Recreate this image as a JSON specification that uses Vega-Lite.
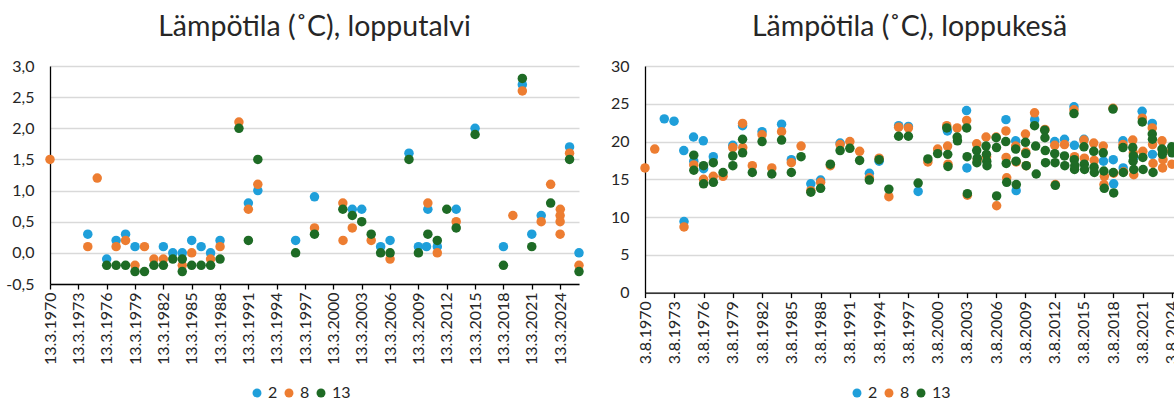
{
 "$schema": "https://vega.github.io/schema/vega-lite/v6.json",
 "padding": {"left": 0, "top": 12, "right": 0, "bottom": 0},
 "background": "white",
 "config": {
  "font": "Lato",
  "view": {"stroke": null},
  "axis": {"labelFont": "Lato", "labelFontSize": 16, "labelColor": "#262626", "gridColor": "#d9d9d9", "gridWidth": 1.3, "domainColor": "#000000", "domainWidth": 1.3, "tickColor": "#000000", "tickWidth": 1.3, "title": null},
  "title": {"font": "Lato", "fontSize": 28.5, "fontWeight": "normal", "color": "#262626", "offset": 17, "anchor": "middle"},
  "legend": {"orient": "none", "direction": "horizontal", "title": null, "symbolType": "circle", "symbolSize": 80, "symbolStrokeWidth": 0, "labelFont": "Lato", "labelFontSize": 16, "labelColor": "#262626", "labelOffset": 3, "columnPadding": 3},
  "concat": {"spacing": 21}
 },
 "datasets": {
  "winter": [
   {"d":"1974-03-13","s":"2","v":0.3},{"d":"1976-03-13","s":"2","v":-0.1},{"d":"1977-03-13","s":"2","v":0.2},{"d":"1978-03-13","s":"2","v":0.3},{"d":"1979-03-13","s":"2","v":0.1},{"d":"1982-03-13","s":"2","v":0.1},{"d":"1983-03-13","s":"2","v":0.0},{"d":"1984-03-13","s":"2","v":0.0},{"d":"1985-03-13","s":"2","v":0.2},{"d":"1986-03-13","s":"2","v":0.1},{"d":"1987-03-13","s":"2","v":0.0},{"d":"1988-03-13","s":"2","v":0.2},{"d":"1991-03-13","s":"2","v":0.8},{"d":"1992-03-13","s":"2","v":1.0},{"d":"1996-03-13","s":"2","v":0.2},{"d":"1998-03-13","s":"2","v":0.9},{"d":"2002-03-13","s":"2","v":0.7},{"d":"2003-03-13","s":"2","v":0.7},{"d":"2005-03-13","s":"2","v":0.1},{"d":"2006-03-13","s":"2","v":0.2},{"d":"2008-03-13","s":"2","v":1.6},{"d":"2009-03-13","s":"2","v":0.1},{"d":"2010-01-20","s":"2","v":0.1},{"d":"2010-03-13","s":"2","v":0.7},{"d":"2011-03-13","s":"2","v":0.1},{"d":"2013-03-13","s":"2","v":0.7},{"d":"2015-03-13","s":"2","v":2.0},{"d":"2018-03-13","s":"2","v":0.1},{"d":"2020-03-13","s":"2","v":2.7},{"d":"2021-03-13","s":"2","v":0.3},{"d":"2022-03-13","s":"2","v":0.6},{"d":"2025-03-13","s":"2","v":1.7},{"d":"2026-03-13","s":"2","v":0.0},
   {"d":"1970-03-13","s":"8","v":1.5},{"d":"1974-03-13","s":"8","v":0.1},{"d":"1975-03-13","s":"8","v":1.2},{"d":"1977-03-13","s":"8","v":0.1},{"d":"1978-03-13","s":"8","v":0.2},{"d":"1979-03-13","s":"8","v":-0.2},{"d":"1980-03-13","s":"8","v":0.1},{"d":"1981-03-13","s":"8","v":-0.1},{"d":"1982-03-13","s":"8","v":-0.1},{"d":"1984-03-13","s":"8","v":-0.2},{"d":"1985-03-13","s":"8","v":0.0},{"d":"1987-03-13","s":"8","v":-0.1},{"d":"1988-03-13","s":"8","v":0.1},{"d":"1990-03-13","s":"8","v":2.1},{"d":"1991-03-13","s":"8","v":0.7},{"d":"1992-03-13","s":"8","v":1.1},{"d":"1998-03-13","s":"8","v":0.4},{"d":"2001-03-13","s":"8","v":0.8},{"d":"2001-03-20","s":"8","v":0.2},{"d":"2002-03-13","s":"8","v":0.4},{"d":"2004-03-13","s":"8","v":0.2},{"d":"2006-03-13","s":"8","v":-0.1},{"d":"2010-03-13","s":"8","v":0.8},{"d":"2011-03-13","s":"8","v":0.0},{"d":"2013-03-13","s":"8","v":0.5},{"d":"2019-03-13","s":"8","v":0.6},{"d":"2020-03-13","s":"8","v":2.6},{"d":"2022-03-13","s":"8","v":0.5},{"d":"2023-03-13","s":"8","v":1.1},{"d":"2024-03-20","s":"8","v":0.7},{"d":"2024-03-13","s":"8","v":0.6},{"d":"2024-03-13","s":"8","v":0.5},{"d":"2024-03-13","s":"8","v":0.3},{"d":"2025-03-13","s":"8","v":1.6},{"d":"2026-03-13","s":"8","v":-0.2},
   {"d":"1976-03-13","s":"13","v":-0.2},{"d":"1977-03-13","s":"13","v":-0.2},{"d":"1978-03-13","s":"13","v":-0.2},{"d":"1979-03-13","s":"13","v":-0.3},{"d":"1980-03-13","s":"13","v":-0.3},{"d":"1981-03-13","s":"13","v":-0.2},{"d":"1982-03-13","s":"13","v":-0.2},{"d":"1983-03-13","s":"13","v":-0.1},{"d":"1984-03-13","s":"13","v":-0.1},{"d":"1984-03-13","s":"13","v":-0.3},{"d":"1985-03-13","s":"13","v":-0.2},{"d":"1986-03-13","s":"13","v":-0.2},{"d":"1987-03-13","s":"13","v":-0.2},{"d":"1988-03-13","s":"13","v":-0.1},{"d":"1990-03-13","s":"13","v":2.0},{"d":"1991-03-13","s":"13","v":0.2},{"d":"1992-03-13","s":"13","v":1.5},{"d":"1996-03-13","s":"13","v":0.0},{"d":"1998-03-13","s":"13","v":0.3},{"d":"2001-03-13","s":"13","v":0.7},{"d":"2002-03-13","s":"13","v":0.6},{"d":"2003-03-13","s":"13","v":0.5},{"d":"2004-03-13","s":"13","v":0.3},{"d":"2005-03-13","s":"13","v":0.0},{"d":"2006-03-13","s":"13","v":0.0},{"d":"2008-03-13","s":"13","v":1.5},{"d":"2009-03-13","s":"13","v":0.0},{"d":"2010-03-13","s":"13","v":0.3},{"d":"2011-03-13","s":"13","v":0.2},{"d":"2012-03-13","s":"13","v":0.7},{"d":"2013-03-13","s":"13","v":0.4},{"d":"2015-03-13","s":"13","v":1.9},{"d":"2018-03-13","s":"13","v":-0.2},{"d":"2020-03-13","s":"13","v":2.8},{"d":"2021-03-13","s":"13","v":0.1},{"d":"2023-03-13","s":"13","v":0.8},{"d":"2025-03-13","s":"13","v":1.5},{"d":"2026-03-13","s":"13","v":-0.3}
  ],
  "summer": [
   {"d":"1972-07-25","s":"2","v":23.0},{"d":"1973-07-25","s":"2","v":22.7},{"d":"1974-07-25","s":"2","v":18.8},{"d":"1974-08-03","s":"2","v":9.4},{"d":"1975-07-25","s":"2","v":20.6},{"d":"1975-08-03","s":"2","v":17.4},{"d":"1976-07-25","s":"2","v":20.1},{"d":"1976-08-05","s":"2","v":16.4},{"d":"1977-08-03","s":"2","v":18.0},{"d":"1979-08-03","s":"2","v":19.5},{"d":"1980-08-03","s":"2","v":22.1},{"d":"1982-08-03","s":"2","v":21.3},{"d":"1984-08-03","s":"2","v":22.3},{"d":"1985-08-03","s":"2","v":17.6},{"d":"1987-08-03","s":"2","v":14.4},{"d":"1988-08-03","s":"2","v":14.9},{"d":"1990-08-03","s":"2","v":19.8},{"d":"1993-08-03","s":"2","v":15.8},{"d":"1994-08-03","s":"2","v":17.4},{"d":"1996-08-03","s":"2","v":22.1},{"d":"1997-08-03","s":"2","v":22.0},{"d":"1998-08-03","s":"2","v":13.4},{"d":"2001-08-03","s":"2","v":21.4},{"d":"2003-07-20","s":"2","v":24.1},{"d":"2003-08-03","s":"2","v":16.5},{"d":"2007-08-03","s":"2","v":22.9},{"d":"2008-08-03","s":"2","v":20.1},{"d":"2008-08-20","s":"2","v":13.5},{"d":"2010-07-15","s":"2","v":22.9},{"d":"2012-08-03","s":"2","v":20.0},{"d":"2013-08-03","s":"2","v":20.3},{"d":"2014-07-25","s":"2","v":24.6},{"d":"2014-08-10","s":"2","v":19.5},{"d":"2015-08-03","s":"2","v":20.3},{"d":"2017-08-03","s":"2","v":17.4},{"d":"2018-08-03","s":"2","v":17.6},{"d":"2018-08-20","s":"2","v":14.4},{"d":"2019-08-03","s":"2","v":20.1},{"d":"2019-08-10","s":"2","v":16.5},{"d":"2020-09-10","s":"2","v":17.9},{"d":"2021-07-20","s":"2","v":24.0},{"d":"2022-08-03","s":"2","v":22.4},{"d":"2022-08-10","s":"2","v":18.3},
   {"d":"1970-08-03","s":"8","v":16.5},{"d":"1971-08-03","s":"8","v":19.0},{"d":"1974-08-03","s":"8","v":8.7},{"d":"1975-08-03","s":"8","v":16.9},{"d":"1976-08-03","s":"8","v":15.0},{"d":"1977-08-03","s":"8","v":15.4},{"d":"1978-08-03","s":"8","v":15.4},{"d":"1979-08-03","s":"8","v":19.2},{"d":"1980-08-03","s":"8","v":22.4},{"d":"1980-08-10","s":"8","v":19.2},{"d":"1981-08-03","s":"8","v":16.8},{"d":"1982-08-03","s":"8","v":20.9},{"d":"1983-08-03","s":"8","v":16.5},{"d":"1984-08-03","s":"8","v":21.3},{"d":"1985-08-03","s":"8","v":17.2},{"d":"1986-08-03","s":"8","v":19.4},{"d":"1987-08-03","s":"8","v":13.5},{"d":"1988-08-03","s":"8","v":14.6},{"d":"1989-08-03","s":"8","v":16.8},{"d":"1990-08-03","s":"8","v":19.6},{"d":"1991-08-03","s":"8","v":20.0},{"d":"1992-08-03","s":"8","v":18.7},{"d":"1993-08-03","s":"8","v":15.2},{"d":"1994-08-03","s":"8","v":17.8},{"d":"1995-08-03","s":"8","v":12.7},{"d":"1996-08-03","s":"8","v":21.9},{"d":"1997-08-03","s":"8","v":21.8},{"d":"1999-08-03","s":"8","v":17.3},{"d":"2000-08-03","s":"8","v":19.0},{"d":"2001-07-10","s":"8","v":22.1},{"d":"2001-08-10","s":"8","v":19.4},{"d":"2001-08-25","s":"8","v":17.0},{"d":"2002-08-03","s":"8","v":21.8},{"d":"2003-07-25","s":"8","v":22.8},{"d":"2003-08-20","s":"8","v":12.9},{"d":"2004-08-03","s":"8","v":19.7},{"d":"2004-08-25","s":"8","v":17.6},{"d":"2005-07-20","s":"8","v":20.6},{"d":"2005-08-10","s":"8","v":18.0},{"d":"2006-08-20","s":"8","v":11.5},{"d":"2006-08-03","s":"8","v":20.6},{"d":"2007-08-03","s":"8","v":21.4},{"d":"2007-08-10","s":"8","v":17.9},{"d":"2007-09-01","s":"8","v":15.2},{"d":"2008-08-03","s":"8","v":19.4},{"d":"2008-08-20","s":"8","v":17.3},{"d":"2009-08-03","s":"8","v":21.0},{"d":"2009-08-15","s":"8","v":18.6},{"d":"2009-09-01","s":"8","v":16.8},{"d":"2010-07-10","s":"8","v":23.8},{"d":"2011-08-03","s":"8","v":21.6},{"d":"2012-08-03","s":"8","v":19.5},{"d":"2012-08-25","s":"8","v":14.3},{"d":"2013-08-03","s":"8","v":19.6},{"d":"2014-07-25","s":"8","v":24.2},{"d":"2014-08-15","s":"8","v":18.0},{"d":"2015-08-03","s":"8","v":20.2},{"d":"2015-08-20","s":"8","v":17.8},{"d":"2016-08-03","s":"8","v":19.8},{"d":"2016-08-20","s":"8","v":17.5},{"d":"2017-07-25","s":"8","v":19.4},{"d":"2017-08-20","s":"8","v":14.3},{"d":"2017-09-05","s":"8","v":15.4},{"d":"2018-07-25","s":"8","v":24.4},{"d":"2018-08-20","s":"8","v":15.8},{"d":"2019-08-03","s":"8","v":19.6},{"d":"2019-08-25","s":"8","v":16.0},{"d":"2020-08-03","s":"8","v":20.2},{"d":"2020-08-25","s":"8","v":18.5},{"d":"2020-09-10","s":"8","v":15.6},{"d":"2021-07-25","s":"8","v":23.1},{"d":"2021-08-15","s":"8","v":18.7},{"d":"2022-08-03","s":"8","v":21.8},{"d":"2022-08-15","s":"8","v":19.6},{"d":"2022-09-01","s":"8","v":17.1},{"d":"2023-08-03","s":"8","v":20.1},{"d":"2023-08-25","s":"8","v":16.5},{"d":"2023-09-10","s":"8","v":17.6},{"d":"2024-07-25","s":"8","v":18.7},{"d":"2024-08-10","s":"8","v":17.0},
   {"d":"1975-08-03","s":"13","v":18.2},{"d":"1975-08-05","s":"13","v":16.2},{"d":"1976-08-03","s":"13","v":16.8},{"d":"1976-08-05","s":"13","v":14.4},{"d":"1977-08-03","s":"13","v":17.2},{"d":"1977-08-05","s":"13","v":14.6},{"d":"1978-08-03","s":"13","v":15.9},{"d":"1979-08-03","s":"13","v":18.1},{"d":"1979-08-05","s":"13","v":16.8},{"d":"1980-08-03","s":"13","v":20.3},{"d":"1980-08-05","s":"13","v":18.5},{"d":"1981-08-03","s":"13","v":15.9},{"d":"1982-08-03","s":"13","v":20.0},{"d":"1983-08-03","s":"13","v":15.7},{"d":"1984-08-03","s":"13","v":20.2},{"d":"1985-08-03","s":"13","v":15.9},{"d":"1986-08-03","s":"13","v":18.0},{"d":"1987-08-03","s":"13","v":13.3},{"d":"1988-08-03","s":"13","v":13.8},{"d":"1989-08-03","s":"13","v":17.0},{"d":"1990-08-03","s":"13","v":18.8},{"d":"1991-08-03","s":"13","v":19.1},{"d":"1992-08-03","s":"13","v":17.5},{"d":"1993-08-03","s":"13","v":14.9},{"d":"1994-08-03","s":"13","v":17.6},{"d":"1995-08-03","s":"13","v":13.7},{"d":"1996-08-03","s":"13","v":20.7},{"d":"1997-08-03","s":"13","v":20.7},{"d":"1998-08-03","s":"13","v":14.5},{"d":"1999-08-03","s":"13","v":17.7},{"d":"2000-08-03","s":"13","v":18.4},{"d":"2001-07-10","s":"13","v":21.8},{"d":"2001-08-15","s":"13","v":18.3},{"d":"2001-08-25","s":"13","v":16.7},{"d":"2002-08-03","s":"13","v":20.6},{"d":"2002-08-15","s":"13","v":20.1},{"d":"2003-07-25","s":"13","v":21.8},{"d":"2003-08-10","s":"13","v":18.0},{"d":"2003-08-20","s":"13","v":13.1},{"d":"2004-08-03","s":"13","v":18.8},{"d":"2004-08-10","s":"13","v":17.2},{"d":"2004-08-25","s":"13","v":17.8},{"d":"2005-07-20","s":"13","v":19.4},{"d":"2005-08-03","s":"13","v":18.3},{"d":"2005-08-15","s":"13","v":17.4},{"d":"2005-08-25","s":"13","v":16.8},{"d":"2006-08-03","s":"13","v":20.5},{"d":"2006-08-15","s":"13","v":19.2},{"d":"2006-08-20","s":"13","v":12.8},{"d":"2007-07-28","s":"13","v":20.0},{"d":"2007-08-15","s":"13","v":17.1},{"d":"2007-09-01","s":"13","v":14.6},{"d":"2008-08-03","s":"13","v":19.0},{"d":"2008-08-15","s":"13","v":17.4},{"d":"2008-08-25","s":"13","v":14.3},{"d":"2009-08-03","s":"13","v":19.9},{"d":"2009-08-15","s":"13","v":18.4},{"d":"2009-09-01","s":"13","v":16.8},{"d":"2010-07-10","s":"13","v":22.1},{"d":"2010-08-20","s":"13","v":19.4},{"d":"2010-09-10","s":"13","v":15.7},{"d":"2011-07-25","s":"13","v":21.5},{"d":"2011-08-03","s":"13","v":20.5},{"d":"2011-08-15","s":"13","v":18.8},{"d":"2011-08-25","s":"13","v":17.2},{"d":"2012-08-03","s":"13","v":18.4},{"d":"2012-08-15","s":"13","v":17.2},{"d":"2012-08-25","s":"13","v":14.2},{"d":"2013-08-03","s":"13","v":18.1},{"d":"2013-08-15","s":"13","v":16.8},{"d":"2014-07-25","s":"13","v":23.7},{"d":"2014-08-05","s":"13","v":17.6},{"d":"2014-08-15","s":"13","v":16.3},{"d":"2014-08-25","s":"13","v":16.8},{"d":"2015-08-03","s":"13","v":19.3},{"d":"2015-08-15","s":"13","v":17.0},{"d":"2015-08-25","s":"13","v":16.3},{"d":"2016-08-03","s":"13","v":18.7},{"d":"2016-08-15","s":"13","v":16.6},{"d":"2016-08-25","s":"13","v":15.9},{"d":"2017-07-25","s":"13","v":18.5},{"d":"2017-08-15","s":"13","v":16.1},{"d":"2017-09-01","s":"13","v":13.8},{"d":"2018-07-25","s":"13","v":24.3},{"d":"2018-08-05","s":"13","v":15.9},{"d":"2018-08-20","s":"13","v":13.2},{"d":"2019-08-03","s":"13","v":19.2},{"d":"2019-08-15","s":"13","v":15.9},{"d":"2020-08-03","s":"13","v":19.2},{"d":"2020-08-15","s":"13","v":17.4},{"d":"2020-08-25","s":"13","v":18.1},{"d":"2020-09-10","s":"13","v":16.3},{"d":"2021-07-25","s":"13","v":22.6},{"d":"2021-08-15","s":"13","v":17.9},{"d":"2021-08-25","s":"13","v":16.3},{"d":"2022-08-03","s":"13","v":21.0},{"d":"2022-08-10","s":"13","v":20.3},{"d":"2022-09-01","s":"13","v":15.9},{"d":"2023-08-03","s":"13","v":19.0},{"d":"2023-08-15","s":"13","v":18.3},{"d":"2023-09-05","s":"13","v":18.8},{"d":"2024-08-03","s":"13","v":19.3},{"d":"2024-08-10","s":"13","v":18.5}
  ]
 },
 "hconcat": [
  {
   "title": "Lämpötila (˚C), lopputalvi",
   "width": 529,
   "height": 218,
   "data": {"name": "winter"},
   "mark": {"type": "circle", "size": 90, "opacity": 1},
   "encoding": {
    "x": {"field": "d", "type": "temporal",
     "scale": {"type": "utc", "nice": false, "domain": [{"year":1970,"month":3,"date":13,"utc":true},{"year":2026,"month":3,"date":13,"utc":true}]},
     "axis": {"labelExpr": "utcFormat(datum.value, '%-d.%-m.%Y')", "labelAngle": -90, "grid": false, "tickSize": 5, "labelPadding": 3, "labelOverlap": false, "labelBound": false, "labelFlush": false,
      "values": [{"year":1970,"month":3,"date":13,"utc":true},{"year":1973,"month":3,"date":13,"utc":true},{"year":1976,"month":3,"date":13,"utc":true},{"year":1979,"month":3,"date":13,"utc":true},{"year":1982,"month":3,"date":13,"utc":true},{"year":1985,"month":3,"date":13,"utc":true},{"year":1988,"month":3,"date":13,"utc":true},{"year":1991,"month":3,"date":13,"utc":true},{"year":1994,"month":3,"date":13,"utc":true},{"year":1997,"month":3,"date":13,"utc":true},{"year":2000,"month":3,"date":13,"utc":true},{"year":2003,"month":3,"date":13,"utc":true},{"year":2006,"month":3,"date":13,"utc":true},{"year":2009,"month":3,"date":13,"utc":true},{"year":2012,"month":3,"date":13,"utc":true},{"year":2015,"month":3,"date":13,"utc":true},{"year":2018,"month":3,"date":13,"utc":true},{"year":2021,"month":3,"date":13,"utc":true},{"year":2024,"month":3,"date":13,"utc":true}]}},
    "y": {"field": "v", "type": "quantitative",
     "scale": {"domain": [-0.5, 3.0], "nice": false, "zero": false},
     "axis": {"values": [-0.5, 0, 0.5, 1, 1.5, 2, 2.5, 3], "ticks": false, "labelPadding": 16, "minExtent": 50, "maxExtent": 50,
      "labelExpr": "(datum.value < 0 ? '-' : '') + replace(format(abs(datum.value), '.1f'), '.', ',')"}},
    "color": {"field": "s", "type": "nominal",
     "scale": {"domain": ["2", "8", "13"], "range": ["#1f9fda", "#ed7d31", "#1e6b25"]},
     "legend": {"legendX": 199, "legendY": 319}}
   }
  },
  {
   "title": "Lämpötila (˚C), loppukesä",
   "width": 529,
   "height": 226.6,
   "data": {"name": "summer"},
   "mark": {"type": "circle", "size": 90, "opacity": 1},
   "encoding": {
    "x": {"field": "d", "type": "temporal",
     "scale": {"type": "utc", "nice": false, "domain": [{"year":1970,"month":8,"date":3,"utc":true},{"year":2024,"month":10,"date":25,"utc":true}]},
     "axis": {"labelExpr": "utcFormat(datum.value, '%-d.%-m.%Y')", "labelAngle": -90, "grid": false, "tickSize": 5, "labelPadding": 3, "labelOverlap": false, "labelBound": false, "labelFlush": false,
      "values": [{"year":1970,"month":8,"date":3,"utc":true},{"year":1973,"month":8,"date":3,"utc":true},{"year":1976,"month":8,"date":3,"utc":true},{"year":1979,"month":8,"date":3,"utc":true},{"year":1982,"month":8,"date":3,"utc":true},{"year":1985,"month":8,"date":3,"utc":true},{"year":1988,"month":8,"date":3,"utc":true},{"year":1991,"month":8,"date":3,"utc":true},{"year":1994,"month":8,"date":3,"utc":true},{"year":1997,"month":8,"date":3,"utc":true},{"year":2000,"month":8,"date":3,"utc":true},{"year":2003,"month":8,"date":3,"utc":true},{"year":2006,"month":8,"date":3,"utc":true},{"year":2009,"month":8,"date":3,"utc":true},{"year":2012,"month":8,"date":3,"utc":true},{"year":2015,"month":8,"date":3,"utc":true},{"year":2018,"month":8,"date":3,"utc":true},{"year":2021,"month":8,"date":3,"utc":true},{"year":2024,"month":8,"date":3,"utc":true}]}},
    "y": {"field": "v", "type": "quantitative",
     "scale": {"domain": [0, 30], "nice": false},
     "axis": {"values": [0, 5, 10, 15, 20, 25, 30], "ticks": false, "labelPadding": 16, "minExtent": 40, "maxExtent": 40}},
    "color": {"field": "s", "type": "nominal",
     "scale": {"domain": ["2", "8", "13"], "range": ["#1f9fda", "#ed7d31", "#1e6b25"]},
     "legend": {"legendX": 204, "legendY": 319}}
   }
  }
 ],
 "resolve": {"scale": {"color": "independent"}, "legend": {"color": "independent"}}
}
